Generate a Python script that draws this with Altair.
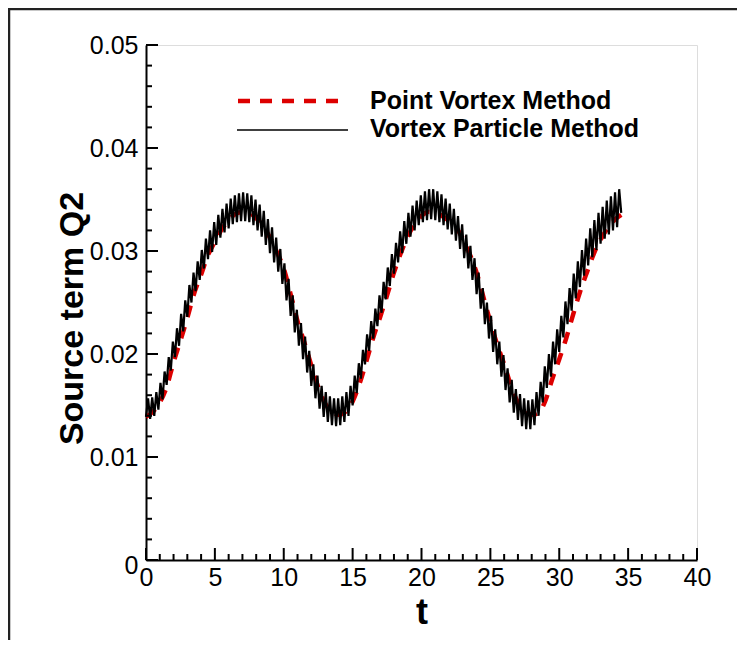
import altair as alt
import pandas as pd

# ---------------- data ----------------
# Point Vortex Method (red dashed), sampled every 0.5 in t starting at t=0
red_step = 0.5
red_q = [
    0.0139, 0.0144, 0.0153, 0.0168, 0.0192, 0.0213, 0.0235, 0.0259, 0.0277, 0.0296,
    0.0309, 0.0321, 0.0330, 0.0336, 0.0338, 0.0337, 0.0332, 0.0324, 0.0313, 0.0299,
    0.0283, 0.0258, 0.0232, 0.0211, 0.0189, 0.0168, 0.0152, 0.0144, 0.0141, 0.0144,
    0.0154, 0.0171, 0.0193, 0.0216, 0.0236, 0.0257, 0.0279, 0.0298, 0.0314, 0.0326,
    0.0334, 0.0338, 0.0337, 0.0334, 0.0329, 0.0323, 0.0312, 0.0297, 0.0279, 0.0255,
    0.0231, 0.0209, 0.0190, 0.0169, 0.0153, 0.0145, 0.0141, 0.0143, 0.0155, 0.0176,
    0.0195, 0.0215, 0.0238, 0.0260, 0.0279, 0.0297, 0.0311, 0.0322, 0.0330, 0.0335,
]

# Vortex Particle Method (black, oscillating): low points at t = 0, 0.3, 0.6 ...
# and high points half-way between them (t = 0.15, 0.45, ...)
black_half_step = 0.15
black_lo = [
    0.0139, 0.0137, 0.0140, 0.0146, 0.0156, 0.0170, 0.0184, 0.0197, 0.0208, 0.0222,
    0.0236, 0.0250, 0.0261, 0.0272, 0.0283, 0.0292, 0.0299, 0.0306, 0.0313, 0.0318,
    0.0322, 0.0326, 0.0328, 0.0329, 0.0329, 0.0328, 0.0325, 0.0320, 0.0314, 0.0306,
    0.0298, 0.0289, 0.0280, 0.0268, 0.0252, 0.0237, 0.0221, 0.0208, 0.0195, 0.0182,
    0.0169, 0.0157, 0.0147, 0.0139, 0.0134, 0.0131, 0.0130, 0.0131, 0.0134, 0.0140,
    0.0150, 0.0162, 0.0176, 0.0190, 0.0203, 0.0215, 0.0227, 0.0240, 0.0253, 0.0266,
    0.0278, 0.0289, 0.0298, 0.0307, 0.0314, 0.0320, 0.0325, 0.0328, 0.0330, 0.0331,
    0.0330, 0.0328, 0.0325, 0.0321, 0.0316, 0.0310, 0.0302, 0.0293, 0.0283, 0.0272,
    0.0258, 0.0244, 0.0229, 0.0215, 0.0202, 0.0190, 0.0178, 0.0165, 0.0153, 0.0143,
    0.0136, 0.0130, 0.0127, 0.0127, 0.0131, 0.0140, 0.0153, 0.0167, 0.0178, 0.0190,
    0.0202, 0.0216, 0.0229, 0.0242, 0.0254, 0.0265, 0.0276, 0.0286, 0.0294, 0.0301,
    0.0307, 0.0312, 0.0316, 0.0320, 0.0323, 0.0337,
]
black_hi = [
    0.0157, 0.0158, 0.0163, 0.0172, 0.0183, 0.0197, 0.0212, 0.0225, 0.0239, 0.0252,
    0.0267, 0.0279, 0.0290, 0.0301, 0.0312, 0.0320, 0.0328, 0.0335, 0.0341, 0.0346,
    0.0351, 0.0354, 0.0356, 0.0357, 0.0356, 0.0354, 0.0350, 0.0345, 0.0339, 0.0331,
    0.0323, 0.0313, 0.0302, 0.0288, 0.0273, 0.0257, 0.0243, 0.0230, 0.0217, 0.0203,
    0.0190, 0.0179, 0.0169, 0.0163, 0.0159, 0.0157, 0.0157, 0.0159, 0.0163, 0.0169,
    0.0179, 0.0191, 0.0204, 0.0219, 0.0232, 0.0244, 0.0257, 0.0270, 0.0284, 0.0297,
    0.0308, 0.0319, 0.0329, 0.0337, 0.0344, 0.0349, 0.0354, 0.0358, 0.0360, 0.0360,
    0.0358, 0.0355, 0.0351, 0.0346, 0.0341, 0.0334, 0.0326, 0.0316, 0.0305, 0.0293,
    0.0279, 0.0264, 0.0250, 0.0237, 0.0224, 0.0212, 0.0199, 0.0186, 0.0175, 0.0166,
    0.0161, 0.0157, 0.0155, 0.0156, 0.0163, 0.0173, 0.0188, 0.0200, 0.0212, 0.0224,
    0.0237, 0.0251, 0.0264, 0.0278, 0.0290, 0.0301, 0.0312, 0.0322, 0.0330, 0.0337,
    0.0343, 0.0349, 0.0353, 0.0357, 0.0360,
]

x_major = [0, 5, 10, 15, 20, 25, 30, 35, 40]
x_minor = [v for v in range(0, 41) if v % 5 != 0]
y_major = [0.0, 0.01, 0.02, 0.03, 0.04, 0.05]
y_minor = [round(0.002 * k, 3) for k in range(26) if k % 5 != 0]

series_red = "Point Vortex Method"
series_black = "Vortex Particle Method"

# ---------------- tables ----------------
red_df = pd.DataFrame({"t": [i * red_step for i in range(len(red_q))], "q": red_q})
black_vals = []
for i, lo in enumerate(black_lo):
    black_vals.append(lo)
    if i < len(black_hi):
        black_vals.append(black_hi[i])
black_df = pd.DataFrame({"t": [i * black_half_step for i in range(len(black_vals))], "q": black_vals})

W, H = 551, 515
FONT = "Liberation Sans"

xs = alt.Scale(domain=[0, 40], nice=False, zero=False)
ys = alt.Scale(domain=[0, 0.05], nice=False, zero=False)

x_axis = alt.Axis(
    values=x_major, format="d", grid=False, ticks=False, tickSize=0,
    domainColor="black", domainWidth=2,
    labelFont=FONT, labelFontSize=25, labelColor="black", labelPadding=5,
    labelFlush=False, labelOverlap=False,
    title="t", titleFont=FONT, titleFontSize=36, titleFontWeight="bold",
    titleColor="black", titleBaseline="alphabetic", titleY=63,
)
y_axis = alt.Axis(
    values=y_major, grid=False, ticks=False, tickSize=0,
    labelExpr="datum.value == 0 ? '0' : format(datum.value, '.2f')",
    labelOffset={"condition": {"test": "datum.value == 0", "value": 5}, "value": 0},
    domainColor="black", domainWidth=2,
    labelFont=FONT, labelFontSize=25, labelColor="black", labelPadding=8,
    labelFlush=False, labelOverlap=False,
    title="Source term Q2", titleFont=FONT, titleFontSize=34, titleFontWeight="bold",
    titleColor="black", titleAngle=270, titleAlign="center", titleBaseline="alphabetic",
    titleX=-64, titleY=273,
)

X = lambda f: alt.X(f, scale=xs, axis=x_axis)
Y = lambda f: alt.Y(f, scale=ys, axis=y_axis)

one = pd.DataFrame({"a": [0]})

red_line = alt.Chart(red_df).mark_line(
    color="#dd0000", strokeWidth=4.5, strokeDash=[12, 10], interpolate="monotone"
).encode(x=X("t:Q"), y=Y("q:Q"))
black_line = alt.Chart(black_df).mark_line(color="black", strokeWidth=2.2).encode(
    x=X("t:Q"), y=Y("q:Q"))

xmaj = alt.Chart(pd.DataFrame({"t": x_major})).mark_rule(color="black", strokeWidth=2).encode(
    x=X("t:Q"), y=alt.value(H), y2=alt.value(H - 12))
xmin = alt.Chart(pd.DataFrame({"t": x_minor})).mark_rule(color="black", strokeWidth=2).encode(
    x=X("t:Q"), y=alt.value(H), y2=alt.value(H - 6))
ymaj = alt.Chart(pd.DataFrame({"q": y_major})).mark_rule(color="black", strokeWidth=2).encode(
    y=Y("q:Q"), x=alt.value(0), x2=alt.value(12))
ymin = alt.Chart(pd.DataFrame({"q": y_minor})).mark_rule(color="black", strokeWidth=2).encode(
    y=Y("q:Q"), x=alt.value(0), x2=alt.value(6))

# legend (drawn by hand, like the original)
leg_red = alt.Chart(one).mark_rule(color="#dd0000", strokeWidth=4.5, strokeDash=[12, 10]).encode(
    x=alt.value(92), x2=alt.value(192), y=alt.value(56))
leg_black = alt.Chart(one).mark_rule(color="black", strokeWidth=1.4).encode(
    x=alt.value(91), x2=alt.value(202), y=alt.value(85))
leg_t1 = alt.Chart(one).mark_text(
    align="left", baseline="middle", font=FONT, fontSize=25, fontWeight="bold", color="black"
).encode(x=alt.value(224), y=alt.value(56), text=alt.value(series_red))
leg_t2 = alt.Chart(one).mark_text(
    align="left", baseline="middle", font=FONT, fontSize=25, fontWeight="bold", color="black"
).encode(x=alt.value(224), y=alt.value(84), text=alt.value(series_black))

# outer frame: only its left and top edges fall inside the picture
frame = alt.Chart(one).mark_rect(
    fillOpacity=0, stroke="#222222", strokeWidth=2.5
).encode(
    x=alt.value(-137), x2=alt.value(W + 300),
    y=alt.value(-36), y2=alt.value(H + 300),
)

chart = alt.layer(
    frame,
    red_line, black_line,
    xmaj, xmin, ymaj, ymin,
    leg_red, leg_black, leg_t1, leg_t2,
).properties(
    width=W, height=H,
    autosize=alt.AutoSizeParams(type="none"),
    padding={"left": 138, "top": 37, "right": 40, "bottom": 80},
).configure_view(stroke="transparent", strokeWidth=0).configure(background="white")

chart.save("out.html", embed_options={"renderer": "svg", "actions": False})
